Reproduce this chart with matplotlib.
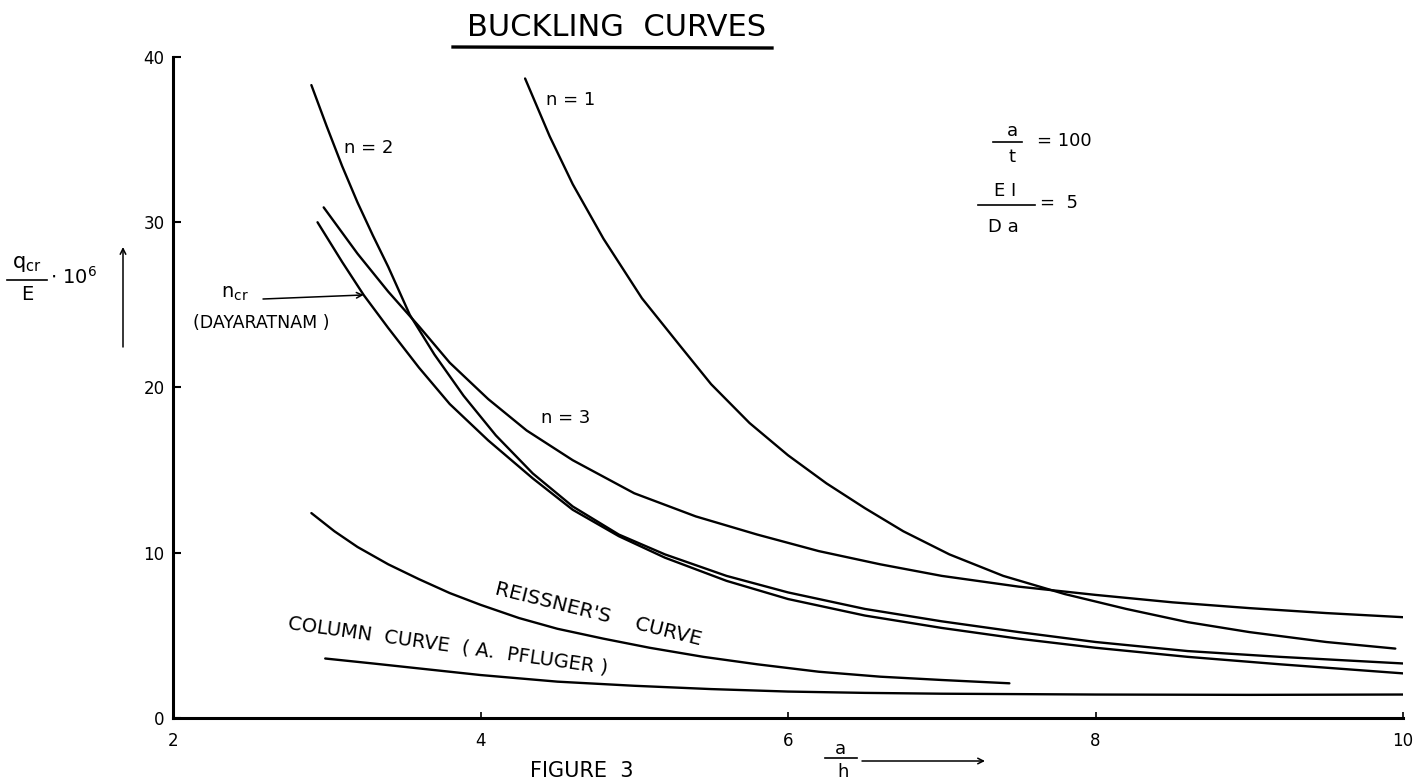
import matplotlib
matplotlib.use("Agg")
import matplotlib.pyplot as plt
from matplotlib.lines import Line2D

plt.rcParams['font.family'] = ['DejaVu Sans']

# ---- data: q_cr/E * 1e6 against a/h ----
n1_x = [4.29, 4.45, 4.6, 4.8, 5.05, 5.3, 5.5, 5.75, 6.0, 6.25, 6.5, 6.75, 7.05,
        7.4, 7.8, 8.2, 8.6, 9.0, 9.5, 9.95]
n1_y = [38.7, 35.2, 32.3, 29.0, 25.4, 22.5, 20.2, 17.85, 15.9, 14.2, 12.7, 11.3, 9.9,
        8.6, 7.5, 6.6, 5.8, 5.2, 4.6, 4.2]

n2_x = [2.90, 3.0, 3.1, 3.2, 3.3, 3.4, 3.54, 3.7, 3.89, 4.1, 4.34, 4.6, 4.9, 5.2,
        5.6, 6.0, 6.5, 7.0, 7.5, 8.0, 8.6, 9.2, 10.0]
n2_y = [38.3, 35.8, 33.4, 31.2, 29.2, 27.3, 24.4, 22.0, 19.5, 17.1, 14.8, 12.8, 11.1, 9.9,
        8.6, 7.6, 6.6, 5.85, 5.2, 4.6, 4.05, 3.7, 3.3]

n3_x = [2.98, 3.2, 3.4, 3.6, 3.8, 4.05, 4.3, 4.6, 5.0, 5.4, 5.8, 6.2, 6.6, 7.0,
        7.5, 8.0, 8.5, 9.0, 9.5, 10.0]
n3_y = [30.9, 28.1, 25.8, 23.7, 21.5, 19.3, 17.4, 15.6, 13.6, 12.2, 11.1, 10.1, 9.3, 8.6,
        7.95, 7.45, 7.0, 6.65, 6.35, 6.1]

dayaratnam_x = [2.94, 3.1, 3.24, 3.4, 3.6, 3.8, 4.05, 4.34, 4.6, 4.9, 5.2, 5.6, 6.0,
                6.5, 7.0, 7.5, 8.0, 8.6, 9.2, 10.0]
dayaratnam_y = [30.0, 27.6, 25.6, 23.6, 21.2, 19.0, 16.8, 14.5, 12.6, 11.0, 9.7, 8.3, 7.2,
                6.2, 5.45, 4.8, 4.25, 3.7, 3.25, 2.7]

reissner_x = [2.90, 3.05, 3.2, 3.4, 3.6, 3.8, 4.0, 4.25, 4.5, 4.8, 5.1, 5.45, 5.8,
              6.2, 6.6, 7.0, 7.44]
reissner_y = [12.4, 11.3, 10.35, 9.3, 8.4, 7.56, 6.85, 6.05, 5.4, 4.8, 4.25, 3.7, 3.25,
              2.8, 2.5, 2.3, 2.1]

column_x = [2.99, 3.3, 3.6, 4.0, 4.5, 5.0, 5.5, 6.0, 6.5, 7.0, 8.0, 9.0, 10.0]
column_y = [3.6, 3.3, 3.0, 2.6, 2.2, 1.95, 1.75, 1.6, 1.52, 1.47, 1.42, 1.4, 1.42]

x_ticks = [2, 4, 6, 8, 10]
y_ticks = [0, 10, 20, 30, 40]

W, H = 1423, 784


def fx(px):
    return px / W


def fy(py):
    return 1 - py / H


fig = plt.figure(figsize=(W / 100, H / 100), dpi=100)
ax = fig.add_axes([fx(173), fy(718), fx(1403) - fx(173), fy(57) - fy(718)])
ax.set_xlim(2, 10)
ax.set_ylim(0, 40)

for sp in ('top', 'right'):
    ax.spines[sp].set_visible(False)
for sp in ('left', 'bottom'):
    ax.spines[sp].set_linewidth(2.2)

ax.set_xticks(x_ticks)
ax.set_yticks(y_ticks)
ax.tick_params(axis='x', direction='in', length=4, width=1.2, pad=10, labelsize=12)
ax.tick_params(axis='y', direction='in', length=6, width=1.5, pad=6, labelsize=12)

lw = 1.7
for xs, ys in [(n1_x, n1_y), (n2_x, n2_y), (n3_x, n3_y),
               (dayaratnam_x, dayaratnam_y), (reissner_x, reissner_y),
               (column_x, column_y)]:
    ax.plot(xs, ys, color='black', lw=lw, solid_capstyle='round', solid_joinstyle='round')

# curve labels
lab = dict(fontsize=13, ha='center', va='center')
fig.text(fx(571), fy(100), 'n = 1', **lab)
fig.text(fx(369), fy(148), 'n = 2', **lab)
fig.text(fx(566), fy(418), 'n = 3', **lab)

fig.text(fx(235), fy(293), r'$\mathregular{n_{cr}}$', fontsize=14, ha='center', va='center')
fig.text(fx(261), fy(323), '(DAYARATNAM )', fontsize=12.5, ha='center', va='center')
ax.annotate('', xy=(dayaratnam_x[2], dayaratnam_y[2]), xycoords='data',
            xytext=(fx(263), fy(299)), textcoords='figure fraction',
            arrowprops=dict(arrowstyle='->', lw=1.1, color='black',
                            shrinkA=0, shrinkB=0),
            annotation_clip=False)

fig.text(fx(598), fy(614), "REISSNER'S    CURVE", fontsize=14.5,
         rotation=-14, ha='center', va='center', rotation_mode='anchor')
fig.text(fx(448), fy(646), 'COLUMN  CURVE  ( A.  PFLUGER )', fontsize=14,
         rotation=-8, ha='center', va='center', rotation_mode='anchor')

# parameter box
fig.text(fx(1012), fy(131), 'a', fontsize=13, ha='center', va='center')
fig.add_artist(Line2D([fx(993), fx(1022)], [fy(142), fy(142)], color='black', lw=1.2))
fig.text(fx(1012), fy(157), 't', fontsize=13, ha='center', va='center')
fig.text(fx(1037), fy(141), '= 100', fontsize=13, ha='left', va='center')

fig.text(fx(1005), fy(191), 'E I', fontsize=13, ha='center', va='center')
fig.add_artist(Line2D([fx(978), fx(1035)], [fy(205), fy(205)], color='black', lw=1.2))
fig.text(fx(1003), fy(227), 'D a', fontsize=13, ha='center', va='center')
fig.text(fx(1040), fy(203), '=  5', fontsize=13, ha='left', va='center')

# y-axis label
fig.text(fx(27), fy(264), r'$\mathregular{q_{cr}}$', fontsize=15, ha='center', va='center')
fig.add_artist(Line2D([fx(7), fx(47)], [fy(280), fy(280)], color='black', lw=1.2))
fig.text(fx(27), fy(295), 'E', fontsize=14, ha='center', va='center')
fig.text(fx(50), fy(277), r'$\mathregular{\cdot\ 10^6}$', fontsize=14, ha='left', va='center')
ax.annotate('', xy=(fx(123), fy(247)), xycoords='figure fraction',
            xytext=(fx(123), fy(347)), textcoords='figure fraction',
            arrowprops=dict(arrowstyle='->', lw=1.1, color='black',
                            shrinkA=0, shrinkB=0),
            annotation_clip=False)

# x-axis label
fig.text(fx(840), fy(749), 'a', fontsize=13, ha='center', va='center')
fig.add_artist(Line2D([fx(825), fx(857)], [fy(758), fy(758)], color='black', lw=1.2))
fig.text(fx(843), fy(772), 'h', fontsize=13, ha='center', va='center')
ax.annotate('', xy=(fx(985), fy(761)), xycoords='figure fraction',
            xytext=(fx(862), fy(761)), textcoords='figure fraction',
            arrowprops=dict(arrowstyle='->', lw=1.1, color='black',
                            shrinkA=0, shrinkB=0),
            annotation_clip=False)

# title and caption
fig.text(fx(617), fy(27), 'BUCKLING  CURVES', fontsize=22, ha='center', va='center')
fig.add_artist(Line2D([fx(453), fx(772)], [fy(47), fy(48)], color='black', lw=2.4))
fig.text(fx(582), fy(777), 'FIGURE  3', fontsize=15, ha='center', va='baseline')

fig.savefig('out.png', dpi=100, facecolor='white')
